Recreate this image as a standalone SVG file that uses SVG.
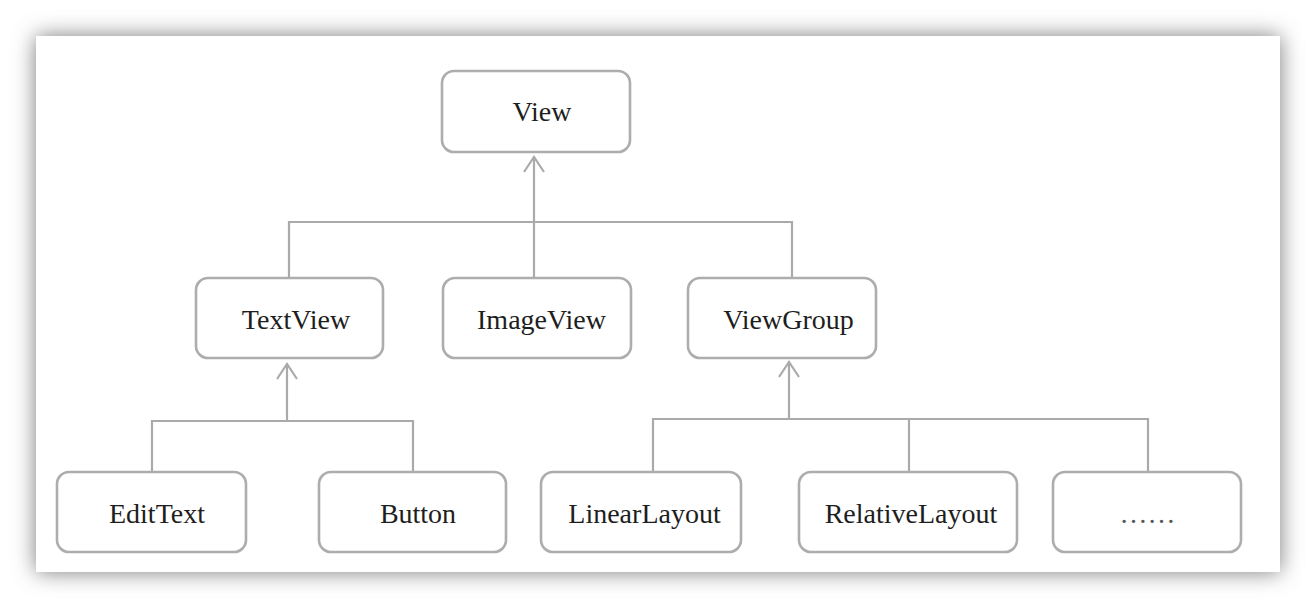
<svg xmlns="http://www.w3.org/2000/svg" width="1316" height="608" viewBox="0 0 1316 608">
  <style>
    .box { fill: #ffffff; stroke: #adadad; stroke-width: 2.6; }
    .lbl { font-family: "Liberation Serif", "Times New Roman", serif; font-size: 28px; fill: #1e1e1e; text-anchor: middle; }
    .dots { fill: #555555; }
    .wire { fill: none; stroke: #aaaaaa; stroke-width: 2.2; }
  </style>
  <defs>
    <filter id="shadow" x="-10%" y="-20%" width="120%" height="140%">
      <feGaussianBlur stdDeviation="11"/>
    </filter>
    <marker id="openArrow" viewBox="0 0 24 24" refX="22" refY="12" markerWidth="24" markerHeight="24" markerUnits="userSpaceOnUse" orient="auto">
      <path d="M7 2 L22 12 L7 22" fill="none" stroke="#aaaaaa" stroke-width="2.2"/>
    </marker>
  </defs>

  <rect x="0" y="0" width="1316" height="608" fill="#ffffff"/>
  <rect x="36" y="36" width="1244" height="536" fill="#7a7a7a" filter="url(#shadow)"/>
  <rect id="card" x="36" y="36" width="1244" height="536" fill="#ffffff"/>

  <g id="connectors">
    <!-- View level -->
    <path class="wire" d="M289 279 V222 H792 V278"/>
    <path class="wire" d="M534 278 V157" marker-end="url(#openArrow)"/>
    <!-- TextView level -->
    <path class="wire" d="M152 472 V421 H413 V472"/>
    <path class="wire" d="M287 421 V364" marker-end="url(#openArrow)"/>
    <!-- ViewGroup level -->
    <path class="wire" d="M653 472 V419 H1148 V472"/>
    <path class="wire" d="M909 419 V472"/>
    <path class="wire" d="M789 419 V362" marker-end="url(#openArrow)"/>
  </g>

  <g id="node-view">
    <rect class="box" x="442" y="71" width="188" height="81" rx="12"/>
    <text class="lbl" x="542" y="121">View</text>
  </g>
  <g id="node-textview">
    <rect class="box" x="196" y="278" width="187" height="80" rx="12"/>
    <text class="lbl" x="296" y="329">TextView</text>
  </g>
  <g id="node-imageview">
    <rect class="box" x="443" y="278" width="188" height="80" rx="12"/>
    <text class="lbl" x="541.5" y="329">ImageView</text>
  </g>
  <g id="node-viewgroup">
    <rect class="box" x="688" y="278" width="188" height="80" rx="12"/>
    <text class="lbl" x="788.5" y="329">ViewGroup</text>
  </g>
  <g id="node-edittext">
    <rect class="box" x="57" y="472" width="189" height="80" rx="12"/>
    <text class="lbl" x="157" y="523">EditText</text>
  </g>
  <g id="node-button">
    <rect class="box" x="319" y="472" width="187" height="80" rx="12"/>
    <text class="lbl" x="418" y="523">Button</text>
  </g>
  <g id="node-linearlayout">
    <rect class="box" x="541" y="472" width="200" height="80" rx="12"/>
    <text class="lbl" x="644.5" y="523">LinearLayout</text>
  </g>
  <g id="node-relativelayout">
    <rect class="box" x="799" y="472" width="218" height="80" rx="12"/>
    <text class="lbl" x="911" y="523">RelativeLayout</text>
  </g>
  <g id="node-more">
    <rect class="box" x="1053" y="472" width="188" height="80" rx="12"/>
    <text class="lbl dots" x="1147.5" y="523">……</text>
  </g>
</svg>
